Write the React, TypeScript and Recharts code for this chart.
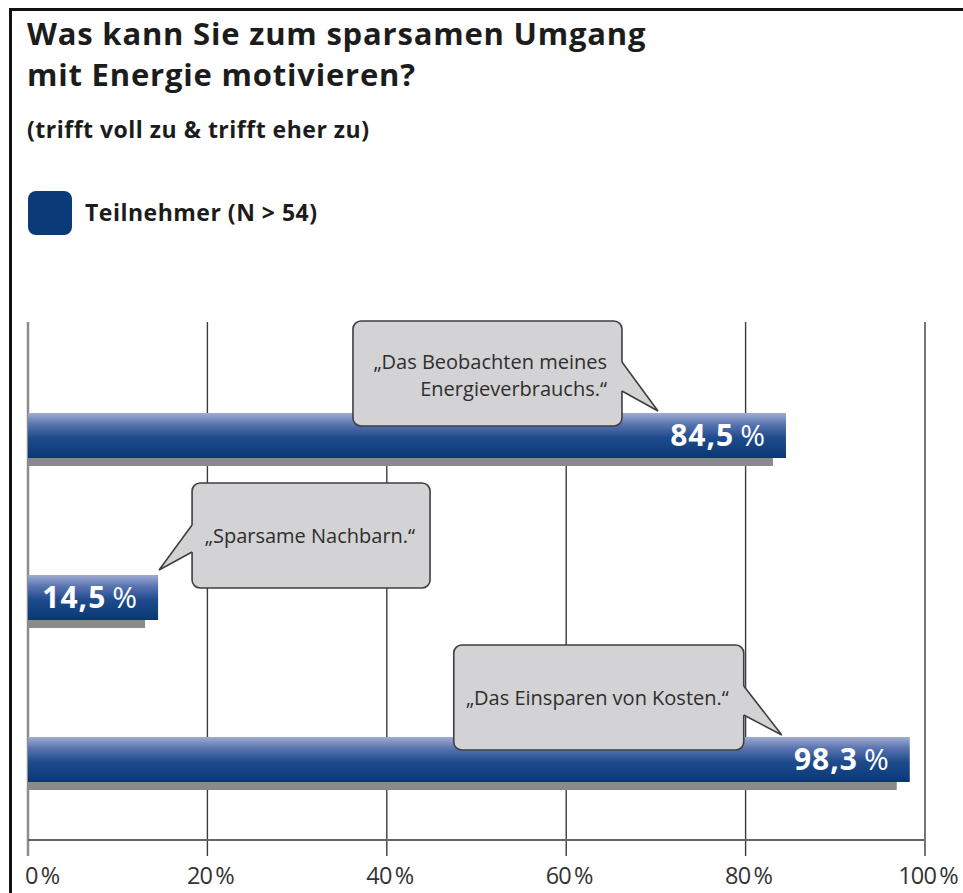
import { BarChart, Bar, XAxis, YAxis, CartesianGrid } from 'recharts'

// survey answers, top to bottom
const categories = ['Beobachten Energieverbrauch', 'Sparsame Nachbarn', 'Einsparen von Kosten']
const shares = [84.5, 14.5, 98.3]
const quoteLines = [
  ['„Das Beobachten meines', 'Energieverbrauchs.“'],
  ['„Sparsame Nachbarn.“'],
  ['„Das Einsparen von Kosten.“'],
]
const xTicks = [0, 20, 40, 60, 80, 100]

const data = categories.map((name, i) => ({ name, value: shares[i], quote: quoteLines[i] }))

const FONT = '"Open Sans", "Noto Sans", sans-serif'
const NAVY = '#0b3a78'
const GRID_TOP = 322
const GRID_BOTTOM = 856

// callout boxes: which side the tail sits on, width, offset from bar end
const CALLOUTS = [
  { side: 'right', w: 269, dx: -164 },
  { side: 'left', w: 238, dx: 34 },
  { side: 'right', w: 290, dx: -166 },
]

const fmt = (v: number) => v.toFixed(1).replace('.', ',')

function Callout({ barEnd, barTop, index, lines }: any) {
  const c = CALLOUTS[index]
  const top = barTop - 92
  const h = 105
  let left: number, right: number, tail: number[][]
  if (c.side === 'right') {
    right = barEnd + c.dx
    left = right - c.w
    tail = [[right, top + 41], [barEnd - 128, barTop - 2], [right, top + 70]]
  } else {
    left = barEnd + c.dx
    right = left + c.w
    tail = [[left, top + 42], [barEnd + 1, barTop - 5], [left, top + 69]]
  }
  const inset = c.side === 'right' ? -3 : 3
  const fillPts = [[tail[0][0] + inset, tail[0][1]], tail[0], tail[1], tail[2], [tail[2][0] + inset, tail[2][1]]]
  const baselines = lines.length > 1 ? [top + 48, top + 75] : [top + 60]
  return (
    <g>
      <rect x={left} y={top} width={right - left} height={h} rx={8} fill="#d3d3d5" stroke="#3f3f3f" strokeWidth={1.6} />
      <polygon points={fillPts.map((p) => p.join(',')).join(' ')} fill="#d3d3d5" />
      <polyline points={tail.map((p) => p.join(',')).join(' ')} fill="none" stroke="#3f3f3f" strokeWidth={1.6} />
      {lines.map((t: string, i: number) => (
        <text key={i} x={right - 15} y={baselines[i]} textAnchor="end" fontFamily={FONT} fontSize={20} fill="#2e2e2e">
          {t}
        </text>
      ))}
    </g>
  )
}

function BarShape(props: any) {
  const { x, y, width, height, index, payload } = props
  const end = x + width
  return (
    <g>
      <rect x={x} y={y + height} width={Math.max(width - 13, 0)} height={8} fill="#8a8a8c" />
      <rect x={x} y={y} width={width} height={height} fill="url(#barGrad)" />
      <text x={end - 20} y={y + height / 2 + 10} textAnchor="end" fontFamily={FONT} fill="#fff" fontSize={30} letterSpacing={1}>
        <tspan fontWeight={700}>{fmt(payload.value)}</tspan>
        <tspan fontWeight={400}>{'\u2009%'}</tspan>
      </text>
      <Callout barEnd={end} barTop={y} index={index} lines={payload.quote} />
    </g>
  )
}

function GridLine(props: any) {
  const { x1, index } = props
  const first = index === 0
  return (
    <line
      key={`g-${index}`}
      x1={x1}
      x2={x1}
      y1={GRID_TOP}
      y2={GRID_BOTTOM}
      stroke={first ? '#8c8c8c' : '#3c3c3c'}
      strokeWidth={first ? 2.5 : 1.4}
    />
  )
}

function TickLabel({ x, y, payload, index }: any) {
  return (
    <text
      x={index === 0 ? x - 3 : x + 3}
      y={y + 44}
      textAnchor={index === 0 ? 'start' : 'middle'}
      fontFamily={FONT}
      fontSize={23.5}
      fill="#333"
      letterSpacing={-0.8}
    >
      {`${payload.value}\u2009%`}
    </text>
  )
}

export default function App() {
  return (
    <div style={{ position: 'absolute', left: 0, top: 0, width: 963, height: 893, background: '#fff', fontFamily: FONT, overflow: 'hidden' }}>
      {/* frame */}
      <div style={{ position: 'absolute', left: 9, top: 8, width: 954, height: 3, background: '#111' }} />
      <div style={{ position: 'absolute', left: 9, top: 8, width: 3, height: 885, background: '#111' }} />

      <div style={{ position: 'absolute', left: 27, top: 13, fontSize: 31, fontWeight: 700, lineHeight: '41px', letterSpacing: 0.8, color: '#1c1c1c' }}>
        Was kann Sie zum sparsamen Umgang
        <br />
        mit Energie motivieren?
      </div>
      <div style={{ position: 'absolute', left: 27, top: 113, fontSize: 23, fontWeight: 700, letterSpacing: 0.5, color: '#1c1c1c' }}>
        (trifft voll zu &amp; trifft eher zu)
      </div>

      {/* legend */}
      <div style={{ position: 'absolute', left: 28, top: 191, width: 44, height: 44, borderRadius: 8, background: NAVY }} />
      <div style={{ position: 'absolute', left: 85, top: 196, fontSize: 23, fontWeight: 700, letterSpacing: 0.5, color: '#1c1c1c' }}>
        Teilnehmer (N &gt; 54)
      </div>

      <div style={{ position: 'absolute', left: 0, top: 0 }}>
        <BarChart width={963} height={893} data={data} layout="vertical" margin={{ top: 354, right: 38, bottom: 8, left: 28 }}>
          <defs>
            <linearGradient id="barGrad" x1="0" y1="0" x2="0" y2="1">
              <stop offset="0%" stopColor="#a0acd2" />
              <stop offset="25%" stopColor="#5a74b0" />
              <stop offset="55%" stopColor="#1e4b8c" />
              <stop offset="100%" stopColor="#0a3774" />
            </linearGradient>
          </defs>
          <CartesianGrid horizontal={false} vertical={GridLine} y={GRID_TOP} height={GRID_BOTTOM - GRID_TOP} />
          <XAxis
            type="number"
            domain={[0, 100]}
            ticks={xTicks}
            height={45}
            axisLine={{ stroke: '#666', strokeWidth: 2 }}
            tickLine={false}
            tickSize={0}
            tickMargin={0}
            tick={TickLabel}
            interval={0}
          />
          <YAxis type="category" dataKey="name" hide />
          <Bar dataKey="value" barSize={45} shape={BarShape} isAnimationActive={false} />
        </BarChart>
      </div>
    </div>
  )
}
